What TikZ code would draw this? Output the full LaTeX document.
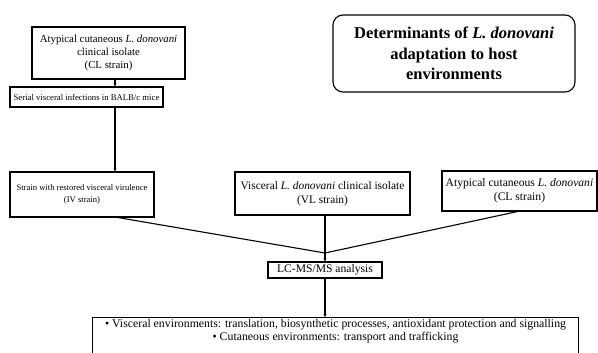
\documentclass[tikz,border=0pt]{standalone}
\usepackage{fontspec}
\setmainfont{Liberation Serif}
\usetikzlibrary{arrows.meta, positioning, calc}

\begin{document}
\begin{tikzpicture}[
    x=1pt, y=-1pt,
    box/.style={draw, line width=1.1pt, align=center, inner sep=2pt},
    title/.style={draw, line width=1.1pt, rounded corners=10pt, align=center,
      font=\fontsize{16.5}{20.5}\selectfont\bfseries},
    link/.style={line width=1.1pt},
    flow/.style={line width=1.1pt, -{Stealth[length=3pt, width=3pt]}},
]
\clip (0,0) rectangle (598,353);

% Left column: CL strain passed through mice
\node[box, minimum width=153pt, minimum height=52pt,
  font=\fontsize{10.8}{13}\selectfont] (clleft) at (108.5,53)
  {Atypical cutaneous \textit{L. donovani}\\clinical isolate\\(CL strain)};
\node[box, minimum width=153pt, minimum height=20pt,
  font=\fontsize{8.7}{11}\selectfont] (mice) at (86.5,97)
  {Serial visceral infections in BALB/c mice};
\node[box, minimum width=144pt, minimum height=45pt,
  font=\fontsize{8.6}{12}\selectfont] (iv) at (82,194.5)
  {Strain with restored visceral virulence\\(IV strain)};

% Other two strains
\node[box, minimum width=175pt, minimum height=43pt,
  font=\fontsize{11.4}{14}\selectfont] (vl) at (322.5,193.5)
  {Visceral \textit{L. donovani} clinical isolate\\(VL strain)};
\node[box, minimum width=155pt, minimum height=40pt,
  font=\fontsize{11.6}{14}\selectfont] (clright) at (519.5,191)
  {Atypical cutaneous \textit{L. donovani}\\(CL strain)};

% Title
\node[title, minimum width=242pt, minimum height=77pt] (head) at (454,53.5)
  {Determinants of \textit{L. donovani}\\adaptation to host\\environments};

% Analysis and results
\node[box, minimum width=114pt, minimum height=16pt,
  font=\fontsize{11.6}{13}\selectfont] (lcms) at (325,270)
  {LC-MS/MS analysis};
\node[box, anchor=north west, minimum width=486pt, text depth=30pt,
  font=\fontsize{11.8}{12.5}\selectfont] (result) at (92,317)
  {\textbullet\ Visceral environments: translation, biosynthetic processes, antioxidant protection and signalling\\
   \textbullet\ Cutaneous environments: transport and trafficking};

% Connectors
\coordinate (spine) at (115,0);
\coordinate (merge) at (325,253);
\draw[flow] (clleft.south -| spine) -- (mice.north -| spine);
\draw[flow] (mice.south -| spine) -- (iv.north -| spine);
\draw[link] ($(iv.south)+(36,0)$) -- (merge);
\draw[link] (vl.south -| merge) -- (merge);
\draw[link] ($(clright.south)+(-2,0)$) -- (merge);
\draw[flow] (merge) -- (lcms.north);
\draw[flow] (lcms.south) -- (result.north -| lcms);
\end{tikzpicture}
\end{document}
